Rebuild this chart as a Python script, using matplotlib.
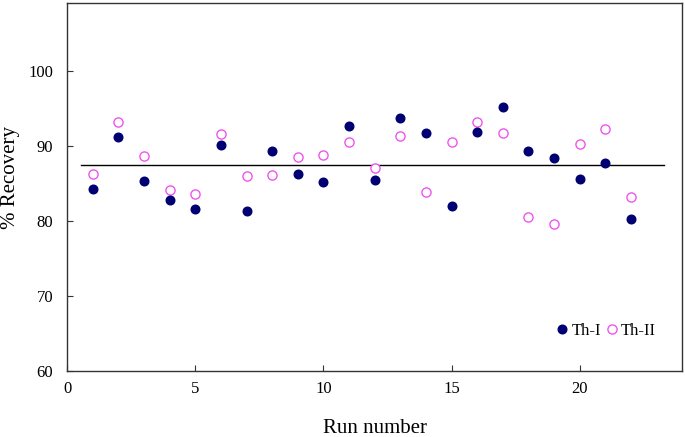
import matplotlib
matplotlib.use("Agg")
import matplotlib.pyplot as plt

plt.rcParams['font.family'] = ['Liberation Serif', 'DejaVu Serif']

#_________data_______________________________
runs = list(range(1, 23))
th_1 = [84.3, 91.2, 85.3, 82.8, 81.6, 90.2, 81.3, 89.3, 86.3, 85.2, 92.7,
        85.5, 93.7, 91.7, 82.0, 91.9, 95.2, 89.3, 88.4, 85.6, 87.8, 80.3]
th_2 = [86.3, 93.2, 88.7, 84.1, 83.6, 91.6, 86.0, 86.1, 88.5, 88.8, 90.5,
        87.1, 91.4, 83.9, 90.5, 93.2, 91.7, 80.5, 79.6, 90.3, 92.3, 83.2]
mean_line = 87.5
line_x = [0.55, 23.3]
#____________________________________________

fig = plt.figure(figsize=(6.85, 4.37), dpi=100)
ax = fig.add_axes([0.098, 0.151, 0.898, 0.841])

ax.plot(line_x, [mean_line, mean_line], color='black', lw=1.0, zorder=1)
ax.plot(runs, th_1, 'o', color='#000073', ms=6.2, label='Th-I', zorder=3)
ax.plot(runs, th_2, 'o', mfc='white', mec='#EE55EE', mew=1.0, ms=6.6,
        label='Th-II', zorder=2)

ax.set_xlim(0, 24)
ax.set_ylim(60, 109)
ax.set_xticks([0, 5, 10, 15, 20])
ax.set_yticks([60, 70, 80, 90, 100])
ax.tick_params(direction='in', length=4, labelsize=12, color='#333333')
ax.tick_params(axis='y', pad=10)
ax.tick_params(axis='x', pad=7)
for s in ax.spines.values():
    s.set_color('#333333')
    s.set_linewidth(1.0)

ax.set_xlabel("Run number", fontsize=15, labelpad=16)
ax.set_ylabel("% Recovery", fontsize=15)
ax.yaxis.set_label_coords(-0.077, 0.526)

ax.legend(loc='center right', bbox_to_anchor=(0.957, 0.109), ncol=2, frameon=False,
          fontsize=12, handletextpad=0.0, columnspacing=0.1, handlelength=1.1,
          borderaxespad=0, borderpad=0)

fig.savefig("out.png", dpi=100)
